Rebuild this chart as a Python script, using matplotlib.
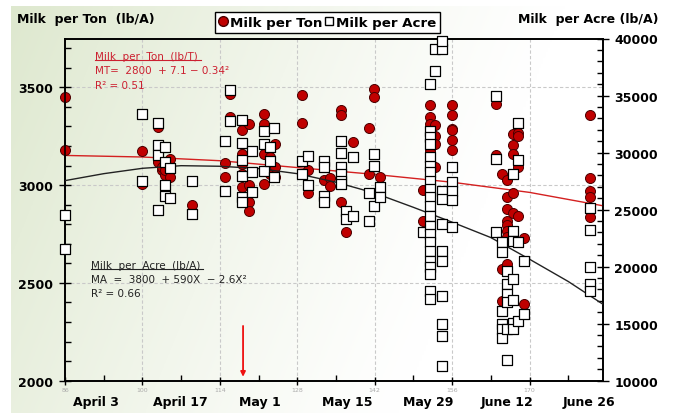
import numpy as np
import matplotlib
matplotlib.use('Agg')
import matplotlib.pyplot as plt
import matplotlib.transforms as mtransforms
from matplotlib.lines import Line2D

plt.rcParams['font.family'] = ['DejaVu Sans']

# ---------------- data ----------------
# Milk per Ton (left axis, lb/T) : day of year, value
mt_day = [86, 86,
          99.9, 99.9,
          102.9, 102.9, 102.9, 103.6, 103.6, 104.1, 104.1, 105, 105,
          109,
          115, 115, 115.9, 115.9,
          118, 118, 118, 118, 118, 118,
          119.2, 119.2, 119.2, 119.2,
          122, 122, 122, 122, 123, 123, 124, 124, 124,
          128.9, 128.9, 130, 130,
          132.9, 132.9, 133.9, 133.9,
          136, 136, 136, 136.9, 138,
          141, 141, 141.9, 141.9, 143,
          150.8, 150.8,
          152, 152, 152, 152, 152, 152, 152, 152, 152, 152, 152, 152, 152, 152,
          153, 153, 153, 153,
          155.9, 155.9, 155.9, 155.9, 155.9, 155.9,
          163.9, 163.9, 165, 165, 165,
          165.9, 165.9, 165.9, 165.9, 165.9, 165.9, 165.9, 165.9,
          167, 167, 167, 167, 167,
          168, 168, 168, 168,
          169, 169,
          181, 181, 181, 181, 181]
mt_val = [3450, 3181,
          3174, 3007,
          3297, 3127, 3118, 3079, 3093, 3050, 3075, 3135, 3041,
          2896,
          3115, 3041, 3464, 3349,
          3280, 3212, 3161, 3106, 3058, 2990,
          3311, 3000, 2913, 2870,
          3365, 3314, 3160, 3007, 3143, 3058, 3212, 3093, 3041,
          3459, 3318, 3075, 2962,
          3113, 3024, 3038, 2998,
          3382, 3357, 2913, 2760, 3220,
          3292, 3058, 3494, 3451, 3041,
          2973, 2819,
          3408, 3349, 3314, 3272, 3220, 3178, 3186, 3170, 3093, 3058, 3032, 2888, 2700, 2589,
          3309, 3251, 3212, 3092,
          3408, 3357, 3289, 3280, 3229, 3178,
          3417, 3152, 2572, 2410, 3055,
          3024, 2939, 2879, 2819, 2794, 2768, 2734, 2597,
          3260, 3203, 3160, 2959, 2856,
          3268, 3252, 3093, 2840,
          2731, 2393,
          3357, 3038, 2968, 2940, 2836]

# Milk per Acre (right axis, lb/A) : day of year, value
ma_day = [86, 86,
          99.9, 99.9,
          102.9, 102.9, 102.9, 102.9, 104.1, 104.1, 104.1, 104.1, 105, 105,
          109, 109,
          115, 115, 115.9, 115.9,
          118, 118, 118, 118, 118, 118,
          119.9, 119.9, 119.9,
          122, 122, 122, 123, 123, 123.8, 123.8,
          128.9, 128.9, 130, 130,
          132.9, 132.9, 132.9, 132.9,
          136, 136, 136, 136, 136, 136, 136.9, 136.9, 138.1, 138,
          141, 141, 141.9, 141.9, 141.9, 143, 143,
          150.8,
          152, 152, 152, 152, 152, 152, 152, 152, 152, 152, 152, 152, 152, 152, 152, 152, 152, 152,
          152, 152, 152,
          152.9, 152.9,
          154.1, 154.1, 154.1, 154.1, 154.1, 154.1, 154.1, 154.1, 154.1, 154.1, 154.1,
          155.9, 155.9, 155.9, 155.9, 155.9,
          163.9, 163.9, 163.9,
          165, 165, 165, 165, 165, 165,
          165.9, 165.9, 165.9, 165.9, 165.9, 165.9,
          167, 167, 167, 167, 167, 167, 167,
          168, 168, 168, 168,
          169, 169,
          181, 181, 181, 181, 181]
ma_val = [24532, 21550,
          33392, 27486,
          32600, 30700, 29800, 25000, 30500, 29150, 27190, 26230, 28626, 25994,
          27544, 24620,
          31050, 26660, 35500, 32750,
          32860, 30820, 29356, 27980, 26083, 25645,
          30170, 28275, 26520,
          31870, 30760, 28420, 30530, 29300, 32160, 27840,
          29240, 28130, 29733, 27190,
          29240, 28715, 26225, 25645,
          30994, 29970, 28715, 28130, 27540, 27250, 24910, 24180, 24470, 29648,
          23980, 26435, 29880, 28855, 25350, 26960, 26083,
          23015,
          36020, 31925, 31346, 30760, 29590, 28855, 28270, 27540, 26812, 26083, 25348, 24470, 23594, 22866,
          22138, 21400, 20524, 19945, 19358, 17893, 17165,
          37134, 39090,
          39090, 39818, 26663, 25935, 23740, 21400, 20524, 17457, 14973, 13947, 11316,
          28716, 27400, 26663, 25860, 23506,
          34995, 29443, 23015,
          22138, 21260, 16139, 14973, 14535, 13745,
          19647, 18481, 17604, 16876, 14534, 11815,
          28128, 23155, 22278, 18918, 17106, 15097, 14534,
          32575, 29356, 22138, 15262,
          20470, 15850,
          25146, 23216, 19945, 18481, 17893]

# trend lines
mt_fit_day = [86, 100, 114, 128, 142, 156, 170, 183.2]
mt_fit_val = [3152, 3144, 3125, 3090, 3055, 3015, 2963, 2895]
ma_fit_day = [86, 93, 100, 107, 114, 121, 128, 135, 142, 149, 156, 163, 170, 177, 183.2]
ma_fit_val = [27540, 28150, 28620, 28850, 28800, 28600, 28150, 27400, 26450, 25200, 23900,
              22550, 20650, 18700, 16730]

x_ticks = [86, 100, 114, 128, 142, 156, 170]
x_minor = [93, 107, 121, 135, 149, 163, 177]
date_labels = ['April 3', 'April 17', 'May 1', 'May 15', 'May 29', 'June 12', 'June 26']
date_pos = [91.6, 106.8, 121.3, 137.0, 151.6, 166.0, 180.7]
left_ticks = [2000, 2500, 3000, 3500]
right_ticks = [10000, 15000, 20000, 25000, 30000, 35000, 40000]
arrow_day = 118.2

# ---------------- figure ----------------
W, H = 675, 414
fig = plt.figure(figsize=(W / 100, H / 100), dpi=100)
fig.patch.set_facecolor('white')

# gradient background
bg = fig.add_axes([11 / W, 0, 1 - 11 / W, 1 - 7 / H], zorder=-10)
yy, xx = np.mgrid[0:1:200j, 0:1:300j]
w = np.clip(1 - 1.2 * xx - 0.3 * yy, 0, 1) ** 1.2
green = np.array([0.87, 0.91, 0.81])
img = 1 - w[..., None] * (1 - green)
bg.imshow(img, aspect='auto', extent=[0, 1, 0, 1], origin='upper')
bg.axis('off')

L, R, T, B = 65, 602.5, 39.5, 381.7
ax = fig.add_axes([L / W, 1 - B / H, (R - L) / W, (B - T) / H])
ax.patch.set_alpha(0)
ax2 = ax.twinx()
ax2.patch.set_alpha(0)

ax.set_xlim(86, 183.2)
ax.set_ylim(2000, 3750)
ax2.set_ylim(10000, 40000)

# grid
ax.set_axisbelow(True)
ax.grid(True, which='major', linestyle=(0, (3, 2)), color='#c9c9c9', lw=0.8)

# trend lines
ax.plot(mt_fit_day, mt_fit_val, color='#d42020', lw=1.0, zorder=3)
ax2.plot(ma_fit_day, ma_fit_val, color='#222222', lw=1.0, zorder=3)

# points
ax.scatter(mt_day, mt_val, s=52, marker='o', facecolor='#c00000', edgecolor='#4a0000',
           linewidth=0.7, zorder=4, clip_on=False)
ax2.scatter(ma_day, ma_val, s=50, marker='s', facecolor='white', edgecolor='black',
            linewidth=0.9, zorder=5, clip_on=False)

# spines
for a in (ax, ax2):
    for sp in a.spines.values():
        sp.set_color('black')
        sp.set_linewidth(1.2)

# ticks
ax.set_xticks(x_ticks)
ax.set_xticklabels([str(t) for t in x_ticks], fontsize=4.5, color='#aaaaaa')
ax.set_xticks(x_minor, minor=True)
ax.tick_params(axis='x', which='major', direction='inout', length=6, width=1, pad=1.5)
ax.tick_params(axis='x', which='minor', direction='in', length=4, width=1)

ax.set_yticks(left_ticks)
ax.set_yticklabels([str(t) for t in left_ticks], fontsize=9, fontweight='bold')
ax.set_yticks(np.arange(2000, 3751, 100), minor=True)
ax.tick_params(axis='y', which='major', direction='inout', length=9, width=1, pad=4)
ax.tick_params(axis='y', which='minor', direction='in', length=4, width=1)

ax2.set_yticks(right_ticks)
ax2.set_yticklabels([str(t) for t in right_ticks], fontsize=9, fontweight='bold')
ax2.set_yticks(np.arange(10000, 40001, 1000), minor=True)
ax2.tick_params(axis='y', which='major', direction='inout', length=9, width=1, pad=4)
ax2.tick_params(axis='y', which='minor', direction='in', length=4, width=1)

# date labels
trans = mtransforms.blended_transform_factory(ax.transData, ax.transAxes)
for d, lbl in zip(date_pos, date_labels):
    ax.text(d, -0.062, lbl, transform=trans, ha='center', va='center',
            fontsize=9, fontweight='bold', clip_on=False)

# axis titles
fig.text(17 / W, 1 - 19 / H, 'Milk  per Ton  (lb/A)', ha='left', va='center',
         fontsize=9, fontweight='bold')
fig.text(658 / W, 1 - 19 / H, 'Milk  per Acre (lb/A)', ha='right', va='center',
         fontsize=9, fontweight='bold')

# legend
handles = [Line2D([], [], marker='o', ls='', mfc='#c00000', mec='#4a0000', ms=7),
           Line2D([], [], marker='s', ls='', mfc='white', mec='black', ms=6)]
leg = fig.legend(handles, ['Milk per Ton', 'Milk per Acre'], loc='upper center',
                 bbox_to_anchor=(327.5 / W, 1 - 13 / H), ncol=2, frameon=True, fancybox=False,
                 edgecolor='black', facecolor='white', framealpha=1,
                 prop={'weight': 'bold', 'size': 9.6}, handlelength=0.6, handletextpad=0.2,
                 columnspacing=0.25, borderpad=0.3, borderaxespad=0)
leg.get_frame().set_linewidth(1.0)

# regression annotations
red_c = '#cc2030'
blk_c = '#222222'
t1 = ax.text(0.0558, 0.949, 'Milk  per  Ton  (lb/T)', transform=ax.transAxes, color=red_c,
             fontsize=7.5, va='center', ha='left')
ax.text(0.0558, 0.908, 'MT=  2800  + 7.1 \u2212 0.34\u00b2', transform=ax.transAxes, color=red_c,
        fontsize=7.5, va='center', ha='left')
ax.text(0.0558, 0.864, 'R\u00b2 = 0.51', transform=ax.transAxes, color=red_c,
        fontsize=7.5, va='center', ha='left')
t2 = ax.text(0.048, 0.338, 'Milk  per  Acre  (lb/A)', transform=ax.transAxes, color=blk_c,
             fontsize=7.5, va='center', ha='left')
ax.text(0.048, 0.297, 'MA  =  3800  + 590X  \u2212 2.6X\u00b2', transform=ax.transAxes, color=blk_c,
        fontsize=7.5, va='center', ha='left')
ax.text(0.048, 0.256, 'R\u00b2 = 0.66', transform=ax.transAxes, color=blk_c,
        fontsize=7.5, va='center', ha='left')

# underline the headers
fig.canvas.draw()
r = fig.canvas.get_renderer()
for t, c in ((t1, red_c), (t2, blk_c)):
    bb = t.get_window_extent(r)
    inv = ax.transAxes.inverted()
    (x0, y0), (x1, y1) = inv.transform([(bb.x0, bb.y0), (bb.x1 + 3, bb.y0)])
    ax.plot([x0, x1], [y0 + 0.002, y1 + 0.002], transform=ax.transAxes, color=c, lw=0.8,
            clip_on=False)

# red arrow
ax.annotate('', xy=(arrow_day, 2020), xytext=(arrow_day, 2280),
            arrowprops=dict(arrowstyle='-|>', color='#ee1111', lw=1.3,
                            mutation_scale=7, shrinkA=0, shrinkB=0), zorder=6)

fig.savefig('out.png', dpi=100)
